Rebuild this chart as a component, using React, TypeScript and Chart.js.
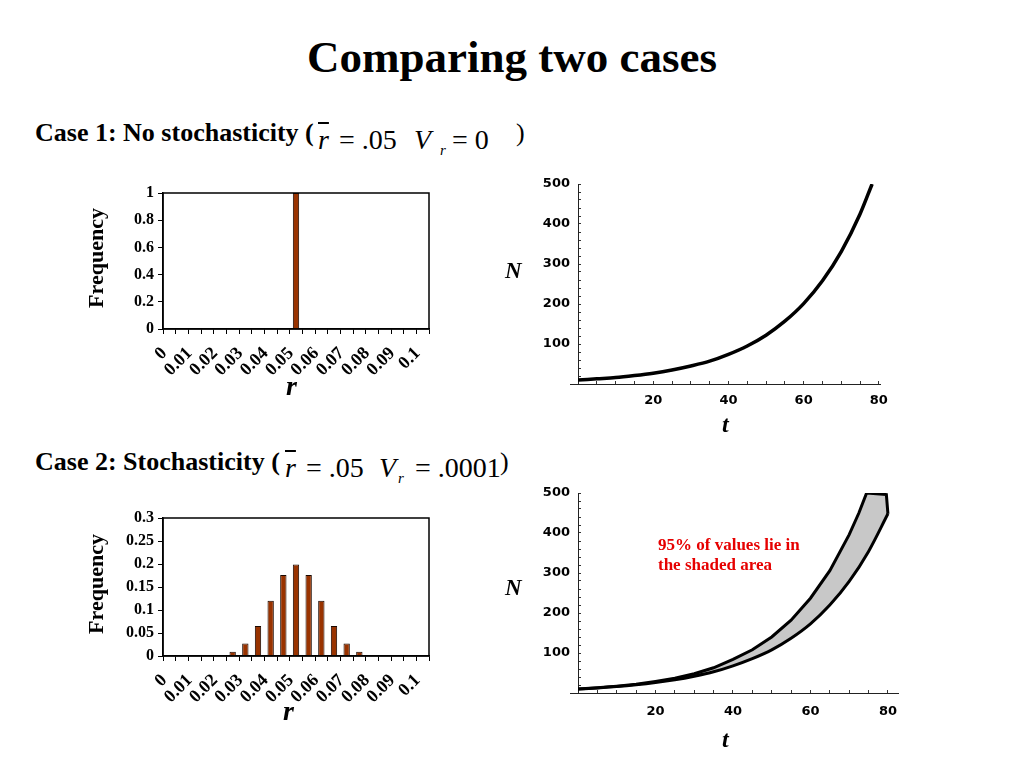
import React, { useEffect, useRef } from "react";
import { Chart, registerables } from "chart.js";
Chart.register(...registerables);

// ---------- data ----------
const rCategories = ["0", "0.005", "0.01", "0.015", "0.02", "0.025", "0.03", "0.035", "0.04", "0.045", "0.05", "0.055", "0.06", "0.065", "0.07", "0.075", "0.08", "0.085", "0.09", "0.095", "0.1"];
const case1Frequency = [0, 0, 0, 0, 0, 0, 0, 0, 0, 0, 1, 0, 0, 0, 0, 0, 0, 0, 0, 0, 0];
const case2Frequency = [0, 0, 0, 0, 0, 0.009, 0.027, 0.065, 0.12, 0.176, 0.199, 0.176, 0.12, 0.065, 0.027, 0.009, 0, 0, 0, 0, 0];

const case1T = [0, 5, 10, 15, 20, 25, 30, 35, 40, 45, 50, 55, 60, 65, 70, 75, 78.2];
const case1N = [10, 13, 16, 21, 27, 35, 45, 57, 74, 95, 122, 157, 201, 258, 331, 425, 500];

const upperT = [0, 5, 10, 15, 20, 25, 30, 35, 40, 45, 50, 55, 60, 65, 70, 72.5, 74.5, 79.6, 80];
const upperN = [10, 13, 17, 22, 29, 37, 48, 63, 84, 108, 140, 182, 237, 306, 396, 450, 500, 496, 448];
const lowerT = [0, 5, 10, 15, 20, 25, 30, 35, 40, 45, 50, 55, 60, 65, 70, 75, 80];
const lowerN = [10, 12.7, 16, 20.4, 26, 33, 42, 53, 68, 86, 108, 137, 173, 220, 279, 354, 448];

const histYTicks1 = { max: 1, step: 0.2 };
const histYTicks2 = { max: 0.3, step: 0.05 };

// ---------- helpers ----------
const SERIF = '"Liberation Serif", "Times New Roman", serif';
const SANS = '"DejaVu Sans", sans-serif';

const pts = (xs: number[], ys: number[]) => xs.map((x, i) => ({ x, y: ys[i] }));

const framePlugin = {
  id: "frame",
  afterDraw(chart: any) {
    const { ctx, chartArea: a } = chart;
    ctx.save();
    ctx.strokeStyle = "#000";
    ctx.lineWidth = 1.5;
    ctx.strokeRect(a.left, a.top, a.right - a.left, a.bottom - a.top);
    ctx.restore();
  },
};

const stubPlugin = {
  id: "stub",
  afterDraw(chart: any) {
    const { ctx } = chart;
    const y0 = Math.round(chart.scales.y.getPixelForValue(0)) + 0.5;
    const x0 = chart.scales.x.getPixelForValue(0);
    ctx.save();
    ctx.strokeStyle = "#222";
    ctx.lineWidth = 1;
    ctx.beginPath();
    ctx.moveTo(x0 - 8, y0);
    ctx.lineTo(x0, y0);
    ctx.stroke();
    ctx.restore();
  },
};

function fitX(h: number) {
  return (s: any) => { s.height = h; s.paddingLeft = 0; s.paddingRight = 0; };
}
function fitY(w: number) {
  return (s: any) => { s.width = w; s.paddingTop = 0; s.paddingBottom = 0; };
}

function histConfig(values: number[], yt: { max: number; step: number }, xHeight: number) {
  return {
    type: "bar",
    data: {
      labels: rCategories,
      datasets: [
        {
          data: values,
          backgroundColor: "#993300",
          borderColor: "#1a0800",
          borderWidth: 1,
          categoryPercentage: 1,
          barPercentage: 0.5,
        },
      ],
    },
    options: {
      responsive: false,
      animation: false,
      devicePixelRatio: 1,
      layout: { padding: { top: 13, right: 11, left: 0, bottom: 0 } },
      plugins: { legend: { display: false }, tooltip: { enabled: false } },
      scales: {
        x: {
          type: "category",
          offset: true,
          afterFit: fitX(xHeight),
          grid: { offset: true, drawOnChartArea: false, tickLength: 5, color: "#000" },
          border: { display: true, color: "#000", width: 1.5 },
          ticks: {
            autoSkip: false,
            minRotation: 45,
            maxRotation: 45,
            padding: 9,
            labelOffset: -5,
            color: "#000",
            font: { family: SERIF, size: 18, weight: "bold" },
            callback: (_v: any, i: number) => (i % 2 === 0 ? rCategories[i] : ""),
          },
        },
        y: {
          min: 0,
          max: yt.max,
          afterFit: fitY(83),
          grid: { drawOnChartArea: false, tickLength: 5, color: "#000" },
          border: { display: true, color: "#000", width: 1.5 },
          ticks: {
            stepSize: yt.step,
            includeBounds: false,
            autoSkip: false,
            padding: 4,
            color: "#000",
            font: { family: SERIF, size: 16, weight: "bold" },
            callback: (v: number) => String(+Number(v).toFixed(2)),
          },
        },
      },
    },
    plugins: [framePlugin],
  };
}

function growthScales(xMax: number, xPad: number, xHeight: number) {
  return {
    x: {
      type: "linear",
      min: 0,
      max: xMax,
      afterFit: fitX(xHeight),
      grid: { drawOnChartArea: false, tickLength: -3, color: "#333" },
      border: { display: true, color: "#222", width: 1 },
      ticks: {
        stepSize: 5,
        includeBounds: false,
        autoSkip: false,
        maxRotation: 0,
        padding: xPad,
        color: "#000",
        font: { family: SANS, size: 13, weight: "bold" },
        callback: (v: number) => (v > 0 && v % 20 === 0 ? String(v) : ""),
      },
    },
    y: {
      type: "linear",
      min: 0,
      max: 500,
      afterFit: fitY(78),
      grid: { drawOnChartArea: false, tickLength: -3, color: "#333" },
      border: { display: true, color: "#222", width: 1 },
      ticks: {
        stepSize: 20,
        includeBounds: false,
        autoSkip: false,
        padding: 11,
        color: "#000",
        font: { family: SANS, size: 13, weight: "bold" },
        callback: (v: number) => (v > 0 && v % 100 === 0 ? String(v) : ""),
      },
    },
  };
}

function curveConfig() {
  return {
    type: "line",
    data: {
      datasets: [
        {
          data: pts(case1T, case1N),
          borderColor: "#000",
          borderWidth: 3.5,
          pointRadius: 0,
          fill: false,
          cubicInterpolationMode: "monotone",
        },
      ],
    },
    options: {
      responsive: false,
      animation: false,
      devicePixelRatio: 1,
      layout: { padding: { top: 14, right: 20, left: 0, bottom: 0 } },
      plugins: { legend: { display: false }, tooltip: { enabled: false } },
      scales: growthScales(80.3, 12, 36),
    },
    plugins: [stubPlugin],
  };
}

function bandConfig() {
  return {
    type: "line",
    data: {
      datasets: [
        {
          data: pts(upperT, upperN),
          borderColor: "#000",
          borderWidth: 3,
          pointRadius: 0,
          tension: 0,
          fill: "+1",
          backgroundColor: "#c8c8c8",
        },
        {
          data: pts(lowerT, lowerN),
          borderColor: "#000",
          borderWidth: 3,
          pointRadius: 0,
          fill: false,
          cubicInterpolationMode: "monotone",
        },
      ],
    },
    options: {
      responsive: false,
      animation: false,
      devicePixelRatio: 1,
      layout: { padding: { top: 13, right: 12, left: 0, bottom: 0 } },
      plugins: {
        legend: { display: false },
        tooltip: { enabled: false },
        filler: { drawTime: "beforeDatasetsDraw" },
      },
      scales: growthScales(82.6, 14, 37),
    },
    plugins: [stubPlugin],
  };
}

function ChartCanvas(props: { left: number; top: number; width: number; height: number; make: () => any }) {
  const ref = useRef<HTMLCanvasElement>(null);
  useEffect(() => {
    const chart = new Chart(ref.current as HTMLCanvasElement, props.make());
    return () => chart.destroy();
  }, []);
  return (
    <canvas
      ref={ref}
      width={props.width}
      height={props.height}
      style={{ position: "absolute", left: props.left, top: props.top, width: props.width, height: props.height }}
    />
  );
}

function T(props: {
  x: number; y: number; size: number; bold?: boolean; italic?: boolean; color?: string; overline?: boolean; children: any;
}) {
  const { x, y, size } = props;
  return (
    <div
      style={{
        position: "absolute",
        left: x,
        top: y - 0.8375 * size,
        fontFamily: SERIF,
        fontSize: size,
        lineHeight: `${size}px`,
        fontWeight: props.bold ? "bold" : "normal",
        fontStyle: props.italic ? "italic" : "normal",
        color: props.color || "#000",
        whiteSpace: "pre",
        textDecoration: props.overline ? "overline" : "none",
      }}
    >
      {props.children}
    </div>
  );
}

function VText(props: { cx: number; cy: number; size: number; children: any }) {
  const w = 160;
  return (
    <div
      style={{
        position: "absolute",
        left: props.cx - w / 2,
        top: props.cy - props.size / 2,
        width: w,
        height: props.size,
        lineHeight: `${props.size}px`,
        textAlign: "center",
        fontFamily: SERIF,
        fontSize: props.size,
        fontWeight: "bold",
        transform: "rotate(-90deg)",
        whiteSpace: "pre",
      }}
    >
      {props.children}
    </div>
  );
}

export default function App() {
  return (
    <div style={{ position: "absolute", left: 0, top: 0, width: 1024, height: 768, background: "#fff", overflow: "hidden" }}>
      <div
        style={{
          position: "absolute", left: 0, top: 73 - 0.8375 * 45, width: 1024, textAlign: "center",
          fontFamily: SERIF, fontSize: 45, lineHeight: "45px", fontWeight: "bold",
        }}
      >
        Comparing two cases
      </div>

      {/* Case 1 heading */}
      <T x={35} y={142} size={26} bold>Case 1: No stochasticity (</T>
      <T x={318} y={149} size={28} italic overline>r</T>
      <T x={339} y={149} size={28}>= .05</T>
      <T x={414} y={149} size={28} italic>V</T>
      <T x={440} y={156} size={15} italic>r</T>
      <T x={452} y={149} size={28}>= 0</T>
      <T x={516} y={142} size={26}>)</T>

      {/* Case 2 heading */}
      <T x={35} y={471} size={26} bold>Case 2: Stochasticity (</T>
      <T x={285} y={477} size={28} italic overline>r</T>
      <T x={306} y={477} size={28}>= .05</T>
      <T x={379} y={477} size={28} italic>V</T>
      <T x={398} y={484} size={15} italic>r</T>
      <T x={415} y={477} size={28}>= .0001</T>
      <T x={500} y={471} size={26}>)</T>

      {/* Histograms */}
      <ChartCanvas left={80} top={180} width={360} height={230} make={() => histConfig(case1Frequency, histYTicks1, 81)} />
      <ChartCanvas left={80} top={505} width={360} height={230} make={() => histConfig(case2Frequency, histYTicks2, 79)} />
      <VText cx={96} cy={258} size={22}>Frequency</VText>
      <VText cx={96} cy={584} size={22}>Frequency</VText>
      <T x={286} y={395} size={28} bold italic>r</T>
      <T x={283} y={720} size={28} bold italic>r</T>

      {/* Growth curves */}
      <ChartCanvas left={500} top={170} width={400} height={250} make={curveConfig} />
      <ChartCanvas left={500} top={480} width={410} height={250} make={bandConfig} />
      <T x={505} y={278} size={23} bold italic>N</T>
      <T x={505} y={595} size={23} bold italic>N</T>
      <T x={722} y={432} size={24} bold italic>t</T>
      <T x={722} y={747} size={24} bold italic>t</T>
      <T x={658} y={550} size={17} bold color="#e60000">95% of values lie in</T>
      <T x={658} y={570} size={17} bold color="#e60000">the shaded area</T>
    </div>
  );
}
